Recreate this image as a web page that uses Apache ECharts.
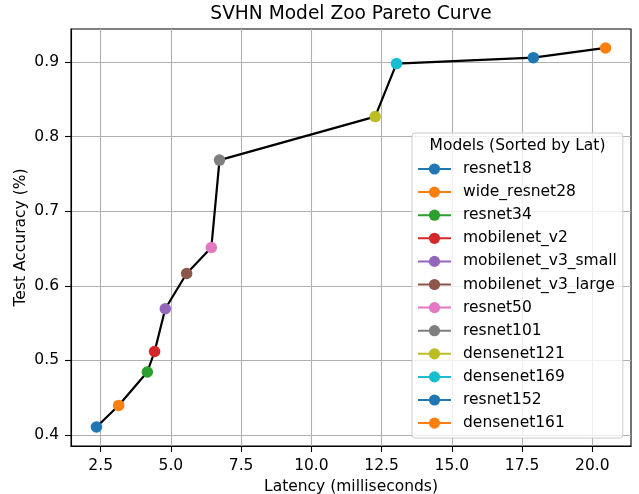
<!DOCTYPE html>
<html><head><meta charset="utf-8">
<script src="https://cdn.jsdelivr.net/npm/echarts@6/dist/echarts.min.js"></script>
<style>html,body{margin:0;padding:0;background:#fff}#c{width:639px;height:494px}</style>
</head><body><div id="c"></div>
<script>
const models = ['resnet18','wide_resnet28','resnet34','mobilenet_v2','mobilenet_v3_small','mobilenet_v3_large','resnet50','resnet101','densenet121','densenet169','resnet152','densenet161'];
const latency = [2.35, 3.14, 4.16, 4.42, 4.80, 5.56, 6.44, 6.73, 12.27, 13.03, 17.90, 20.47];
const accuracy = [0.4107, 0.4397, 0.4845, 0.512, 0.5693, 0.6166, 0.6515, 0.7686, 0.827, 0.898, 0.906, 0.919];
const xTicks = [2.5, 5, 7.5, 10, 12.5, 15, 17.5, 20];
const yTicks = [0.4, 0.5, 0.6, 0.7, 0.8, 0.9];
const palette = ['#1f77b4','#ff7f0e','#2ca02c','#d62728','#9467bd','#8c564b','#e377c2','#7f7f7f','#bcbd22','#17becf','#1f77b4','#ff7f0e'];

const F = 'DejaVu Sans';
const FS = 15.5;
const xr = Math.max(...latency) - Math.min(...latency);
const yr = Math.max(...accuracy) - Math.min(...accuracy);
const xMin = Math.min(...latency) - 0.05 * xr, xMax = Math.max(...latency) + 0.05 * xr;
const yMin = Math.min(...accuracy) - 0.05 * yr, yMax = Math.max(...accuracy) + 0.05 * yr;

const chart = echarts.init(document.getElementById('c'), null, {renderer: 'canvas'});

const series = [{
  type: 'line', name: 'pareto', silent: true, z: 2,
  data: latency.map((x, i) => [x, accuracy[i]]),
  symbol: 'none', lineStyle: {color: '#000', width: 2.2}, animation: false
}];
models.forEach((m, i) => {
  series.push({
    type: 'line', name: m, z: 3, animation: false,
    data: [[latency[i], accuracy[i]]],
    symbol: 'circle', symbolSize: 11.5,
    itemStyle: {color: palette[i]},
    lineStyle: {color: palette[i], width: 2.5}
  });
});

chart.setOption({
  animation: false,
  backgroundColor: '#fff',
  textStyle: {fontFamily: F},
  grid: {left: 71, right: 8, top: 29, bottom: 48, show: true, borderColor: '#000', borderWidth: 1.1, containLabel: false, outerBoundsMode: 'none'},
  xAxis: {
    type: 'value', min: xMin, max: xMax,
    axisLine: {show: true, onZero: false, lineStyle: {color: '#000', width: 1.1}},
    axisTick: {show: true, customValues: xTicks, length: 6, lineStyle: {color: '#000', width: 1.1}},
    axisLabel: {customValues: xTicks, formatter: v => v.toFixed(1), fontSize: FS, fontFamily: F, color: '#000', margin: 12},
    splitLine: {show: true, lineStyle: {color: '#b0b0b0', width: 1.1}},
    name: 'Latency (milliseconds)', nameLocation: 'middle', nameGap: 31,
    nameTextStyle: {fontSize: FS, fontFamily: F, color: '#000'}
  },
  yAxis: {
    type: 'value', min: yMin, max: yMax,
    axisLine: {show: true, onZero: false, lineStyle: {color: '#000', width: 1.1}},
    axisTick: {show: true, customValues: yTicks, length: 6, lineStyle: {color: '#000', width: 1.1}},
    axisLabel: {customValues: yTicks, formatter: v => v.toFixed(1), fontSize: FS, fontFamily: F, color: '#000', margin: 12},
    splitLine: {show: true, lineStyle: {color: '#b0b0b0', width: 1.1}},
    name: 'Test Accuracy (%)', nameLocation: 'middle', nameGap: 42, nameMoveOverlap: false,
    nameTextStyle: {fontSize: FS, fontFamily: F, color: '#000'}
  },
  legend: {
    orient: 'vertical', left: 412, top: 133,
    padding: [28, 6, 7, 5],
    itemWidth: 33, itemHeight: 14, itemGap: 7.1,
    data: models,
    textStyle: {fontSize: FS, fontFamily: F, color: '#000', padding: [0, 0, 0, 7]},
    backgroundColor: 'rgba(255,255,255,0.8)',
    borderColor: '#cccccc', borderWidth: 1, borderRadius: 3,
    selectedMode: false
  },
  graphic: [
    {type: 'text', x: 351, y: 14, z: 100, style: {text: 'SVHN Model Zoo Pareto Curve', font: '18.6px "DejaVu Sans"', fill: '#000', align: 'center', verticalAlign: 'middle'}},
    {type: 'text', x: 517.5, y: 146, z: 100, style: {text: 'Models (Sorted by Lat)', font: FS + 'px "DejaVu Sans"', fill: '#000', align: 'center', verticalAlign: 'middle'}}
  ],
  series: series
});
</script>
</body></html>
